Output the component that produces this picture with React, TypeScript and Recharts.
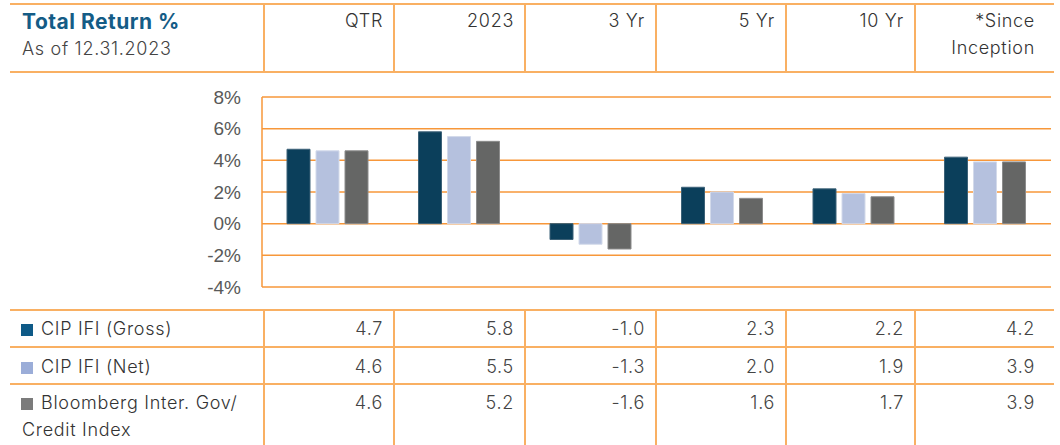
import { BarChart, Bar, XAxis, YAxis, CartesianGrid } from "recharts";

// Periods shown as columns
const periods = ["QTR", "2023", "3 Yr", "5 Yr", "10 Yr", "*Since Inception"];

// Total return % per period
const grossValues = [4.7, 5.8, -1.0, 2.3, 2.2, 4.2];
const netValues = [4.6, 5.5, -1.3, 2.0, 1.9, 3.9];
const benchValues = [4.6, 5.2, -1.6, 1.6, 1.7, 3.9];

const yTicks = [-4, -2, 0, 2, 4, 6, 8];

const seriesNames = ["CIP IFI (Gross)", "CIP IFI (Net)", "Bloomberg Inter. Gov/ Credit Index"];

const chartData = periods.map((p, i) => ({
  period: p,
  gross: grossValues[i],
  net: netValues[i],
  bench: benchValues[i],
}));

const tableRows = [
  { name: seriesNames[0], lines: ["CIP IFI (Gross)"], values: grossValues, swatch: "#0e5a87", center: 330 },
  { name: seriesNames[1], lines: ["CIP IFI (Net)"], values: netValues, swatch: "#9badd8", center: 368 },
  { name: seriesNames[2], lines: ["Bloomberg Inter. Gov/", "Credit Index"], values: benchValues, swatch: "#7b7b7b", center: 404 },
];

// column boundaries of header/table
const colEdges = [264, 394, 525, 656, 786, 915, 1046];

const FONT = "Inter, 'Open Sans', sans-serif";
const GRID = "#f7973a";
const RULE = "#f9b063";

function HLine({ y, color = RULE }: { y: number; color?: string }) {
  return (
    <div
      style={{ position: "absolute", left: 10, top: y - 1, width: 1044, height: 2, background: color }}
    />
  );
}

function VLine({ x, top, bottom }: { x: number; top: number; bottom: number }) {
  return (
    <div
      style={{ position: "absolute", left: x - 1, top, width: 2, height: bottom - top, background: RULE }}
    />
  );
}

function TextLine({
  text,
  left,
  right,
  center,
  size = 18,
  color = "#333",
  weight = 300,
  spacing = 0.7,
}: {
  text: string;
  left?: number;
  right?: number;
  center: number;
  size?: number;
  color?: string;
  weight?: number;
  spacing?: number;
}) {
  const lh = 26;
  return (
    <div
      style={{
        position: "absolute",
        top: center - lh / 2 - 1,
        left: left !== undefined ? left : undefined,
        right: right !== undefined ? 1060 - right : undefined,
        lineHeight: `${lh}px`,
        fontSize: size,
        color,
        fontWeight: weight,
        letterSpacing: spacing,
        whiteSpace: "nowrap",
        textAlign: right !== undefined ? "right" : "left",
      }}
    >
      {text}
    </div>
  );
}

export default function App() {
  return (
    <div
      style={{
        position: "absolute",
        left: 0,
        top: 0,
        width: 1060,
        height: 445,
        background: "#fff",
        fontFamily: FONT,
        overflow: "hidden",
      }}
    >
      {/* Header */}
      <HLine y={4} />
      <HLine y={72} />
      {colEdges.slice(0, 6).map((x) => (
        <VLine key={`h-${x}`} x={x} top={4} bottom={72} />
      ))}
      <TextLine text="Total Return %" left={22} center={23} size={21} color="#145c86" weight={700} spacing={0.5} />
      <TextLine text="As of 12.31.2023" left={22} center={50} size={18} color="#444" />
      {periods.map((p, i) => {
        const right = colEdges[i + 1] - 11;
        if (p === "*Since Inception") {
          return (
            <div key={p}>
              <TextLine text="*Since" right={right} center={22} />
              <TextLine text="Inception" right={right} center={49} />
            </div>
          );
        }
        return <TextLine key={p} text={p} right={right} center={22} />;
      })}

      {/* Chart */}
      <div style={{ position: "absolute", left: 0, top: 72 }}>
        <BarChart
          width={1060}
          height={240}
          data={chartData}
          margin={{ top: 25, right: 9, left: 0, bottom: 25 }}
          barSize={23}
          barGap={6}
        >
          <CartesianGrid vertical={false} stroke={GRID} strokeWidth={1.5} />
          <XAxis dataKey="period" hide />
          <YAxis
            width={262}
            domain={[-4, 8]}
            ticks={yTicks}
            interval={0}
            tickFormatter={(v: number) => `${v}%`}
            axisLine={{ stroke: GRID, strokeWidth: 1.5 }}
            tickLine={false}
            tickSize={0}
            tickMargin={21}
            tick={{ fill: "#595959", fontSize: 19, fontFamily: "'Liberation Sans', Arial, sans-serif" }}
          />
          <Bar dataKey="gross" name={seriesNames[0]} fill="#0b3f5b" stroke="#3d6278" strokeWidth={1} isAnimationActive={false} />
          <Bar dataKey="net" name={seriesNames[1]} fill="#b5c1de" stroke="#d3daea" strokeWidth={1} isAnimationActive={false} />
          <Bar dataKey="bench" name={seriesNames[2]} fill="#656665" stroke="#8c8c8c" strokeWidth={1} isAnimationActive={false} />
        </BarChart>
      </div>

      {/* Data table */}
      <HLine y={310} />
      <HLine y={347} />
      <HLine y={384} />
      {colEdges.slice(0, 6).map((x) => (
        <VLine key={`t-${x}`} x={x} top={310} bottom={445} />
      ))}
      {tableRows.map((row) => (
        <div key={row.name}>
          <div
            style={{
              position: "absolute",
              left: 21,
              top: row.center - 6,
              width: 12,
              height: 12,
              background: row.swatch,
            }}
          />
          {row.lines.map((line, li) => (
            <TextLine
              key={line}
              text={line}
              left={li === 0 ? 41 : 22}
              center={row.center + li * 27}
            />
          ))}
          {row.values.map((v, i) => (
            <TextLine
              key={`${row.name}-${i}`}
              text={v.toFixed(1)}
              right={colEdges[i + 1] - 11}
              center={row.center}
              color="#444"
            />
          ))}
        </div>
      ))}
    </div>
  );
}
